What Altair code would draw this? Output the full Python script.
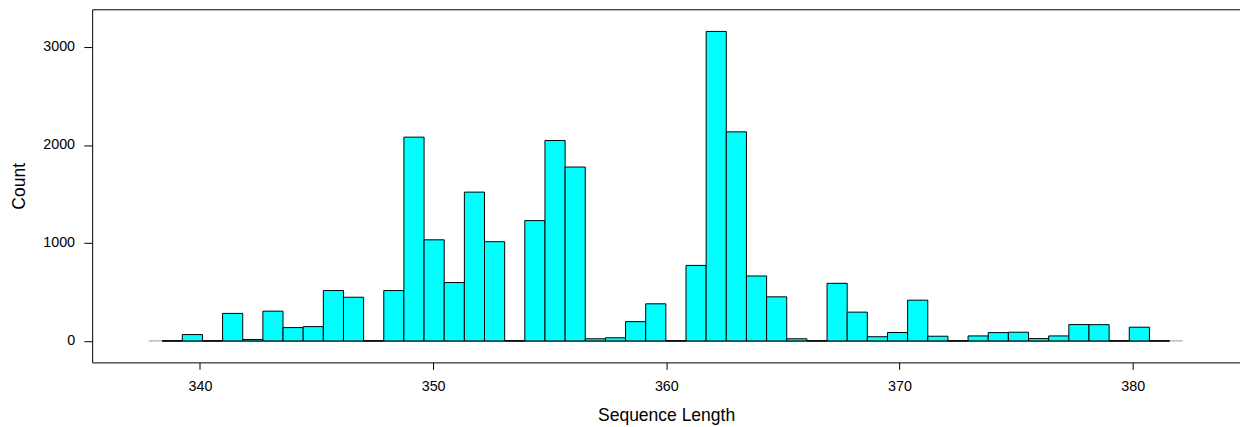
import altair as alt
import pandas as pd

# Histogram bin edges (Sequence Length) and counts per bin
bin_edges = [338.380, 339.244, 340.108, 340.972, 341.836, 342.700, 343.564, 344.428,
             345.292, 346.156, 347.020, 347.884, 348.748, 349.612, 350.476, 351.340,
             352.204, 353.068, 353.932, 354.796, 355.660, 356.524, 357.388, 358.252,
             359.116, 359.980, 360.844, 361.708, 362.572, 363.436, 364.300, 365.164,
             366.028, 366.892, 367.756, 368.620, 369.484, 370.348, 371.212, 372.076,
             372.940, 373.804, 374.668, 375.532, 376.396, 377.260, 378.124, 378.988,
             379.852, 380.716, 381.580]
counts = [0, 65, 0, 281, 15, 304, 136, 146, 514, 446,
          0, 514, 2080, 1032, 596, 1519, 1013, 0, 1228, 2046,
          1775, 22, 32, 197, 379, 0, 771, 3159, 2134, 663,
          450, 22, 0, 588, 294, 43, 86, 416, 48, 0,
          51, 85, 89, 24, 51, 167, 166, 0, 140, 0]
outer_span = [337.81, 382.14]
x_ticks = [340, 350, 360, 370, 380]
y_ticks = [0, 1000, 2000, 3000]

bars = pd.DataFrame({"lo": bin_edges[:-1], "hi": bin_edges[1:], "count": counts})
outer = pd.DataFrame({"a": [outer_span[0]], "b": [outer_span[1]], "y": [0]})
inner = pd.DataFrame({"a": [bin_edges[0]], "b": [bin_edges[-1]], "y": [0]})

FONT = "Liberation Sans"
xscale = alt.Scale(domain=[335.38, 384.6], nice=False, zero=False)
yscale = alt.Scale(domain=[-219, 3385], nice=False, zero=False)

xaxis = alt.Axis(values=x_ticks, format="d", title="Sequence Length", grid=False, domain=False,
                 tickSize=7, tickColor="black", tickWidth=1,
                 labelFont=FONT, labelFontSize=14.4, labelColor="black",
                 labelBaseline="alphabetic", labelPadding=21.4,
                 titleFont=FONT, titleFontSize=17.6, titleFontWeight="normal", titleColor="black",
                 titleBaseline="alphabetic", titleY=58.4)
yaxis = alt.Axis(values=y_ticks, format="d", title="Count", grid=False, domain=False,
                 tickSize=8.4, tickColor="black", tickWidth=1,
                 labelFont=FONT, labelFontSize=14.4, labelColor="black",
                 labelPadding=9.3, labelBaseline="middle",
                 titleFont=FONT, titleFontSize=17.6, titleFontWeight="normal", titleColor="black",
                 titleAngle=270, titleBaseline="alphabetic", titleAlign="center",
                 titleX=-67.7, titleY=177.65)

grey_line = alt.Chart(outer).mark_rule(color="#999999", strokeWidth=1).encode(
    x=alt.X("a:Q", scale=xscale, axis=xaxis),
    x2="b:Q",
    y=alt.Y("y:Q", scale=yscale, axis=yaxis),
)
black_line = alt.Chart(inner).mark_rule(color="black", strokeWidth=1).encode(
    x=alt.X("a:Q", scale=xscale),
    x2="b:Q",
    y=alt.Y("y:Q", scale=yscale),
)
rects = alt.Chart(bars).mark_rect(fill="#00FFFF", stroke="black", strokeWidth=1).encode(
    x=alt.X("lo:Q", scale=xscale),
    x2="hi:Q",
    y=alt.Y("count:Q", scale=yscale),
    y2=alt.datum(0),
)

chart = alt.layer(grey_line, black_line, rects).properties(
    width=1155, height=355.3,
    autosize=alt.AutoSizeParams(type="none"),
    padding={"left": 84.7, "top": 0, "right": 0, "bottom": 62},
    background="white",
).configure_view(stroke="black", strokeWidth=1)

chart.save("out.html", embed_options={"renderer": "svg", "actions": False})
